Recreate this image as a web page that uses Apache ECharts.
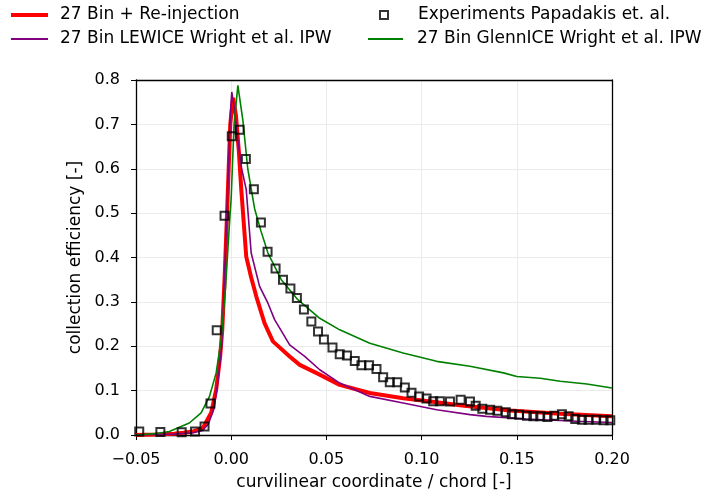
<!DOCTYPE html>
<html>
<head>
<meta charset="utf-8">
<script src="https://cdn.jsdelivr.net/npm/echarts@6/dist/echarts.min.js"></script>
<style>
  html, body { margin: 0; padding: 0; background: #fff; }
  #chart { width: 702px; height: 493px; }
</style>
</head>
<body>
<div id="chart"></div>
<script>
// 27 Bin + Re-injection
var reinjX = [-0.05, -0.04, -0.03, -0.025, -0.02, -0.015, -0.0105, -0.0079, -0.0058, -0.0047, -0.0035, -0.002, -0.0005, 0.001, 0.0025, 0.004, 0.0053, 0.0079, 0.0105, 0.0132, 0.0175, 0.0219, 0.0307, 0.036, 0.0465, 0.057, 0.0728, 0.0903, 0.1079, 0.12, 0.1465, 0.1728, 0.2];
var reinjY = [0, 0.001, 0.003, 0.005, 0.008, 0.015, 0.05, 0.102, 0.177, 0.237, 0.35, 0.52, 0.70, 0.76, 0.72, 0.64, 0.553, 0.402, 0.355, 0.312, 0.252, 0.211, 0.177, 0.158, 0.136, 0.113, 0.0946, 0.083, 0.074, 0.067, 0.055, 0.048, 0.042];

// 27 Bin LEWICE Wright et al. IPW
var lewiceX = [-0.05, -0.03, -0.02, -0.015, -0.012, -0.009, -0.007, -0.005, -0.004, -0.002, -0.0005, 0.0003, 0.0015, 0.003, 0.0055, 0.0079, 0.0105, 0.0149, 0.0193, 0.0228, 0.0307, 0.0386, 0.0465, 0.057, 0.0728, 0.0903, 0.1079, 0.1254, 0.134, 0.155, 0.1816, 0.2];
var lewiceY = [0, 0.002, 0.005, 0.01, 0.025, 0.06, 0.12, 0.2, 0.3, 0.535, 0.72, 0.773, 0.74, 0.68, 0.6, 0.553, 0.41, 0.335, 0.297, 0.26, 0.203, 0.177, 0.147, 0.117, 0.087, 0.072, 0.057, 0.046, 0.042, 0.036, 0.031, 0.028];

// 27 Bin GlennICE Wright et al. IPW
var glennX = [-0.05, -0.04, -0.0325, -0.022, -0.0158, -0.0114, -0.0079, -0.0053, -0.003, -0.001, 0.0, 0.0015, 0.0035, 0.0061, 0.0087, 0.0123, 0.0156, 0.0193, 0.0263, 0.035, 0.0465, 0.057, 0.0728, 0.0903, 0.1079, 0.1254, 0.143, 0.15, 0.1623, 0.1728, 0.1868, 0.2];
var glennY = [0, 0.003, 0.008, 0.027, 0.05, 0.087, 0.14, 0.215, 0.33, 0.47, 0.535, 0.7, 0.788, 0.71, 0.60, 0.51, 0.46, 0.41, 0.35, 0.305, 0.263, 0.237, 0.207, 0.185, 0.166, 0.155, 0.14, 0.132, 0.128, 0.121, 0.115, 0.106];

// Experiments Papadakis et. al.
var expX = [-0.0483, -0.0372, -0.026, -0.019, -0.014, -0.0109, -0.0076, -0.0035, 0.0003, 0.0044, 0.0077, 0.0119, 0.0156, 0.0191, 0.0233, 0.0272, 0.0311, 0.0345, 0.0382, 0.0421, 0.0456, 0.0487, 0.0532, 0.057, 0.0608, 0.0649, 0.0684, 0.0724, 0.0763, 0.0798, 0.0833, 0.0872, 0.0912, 0.0947, 0.0987, 0.1026, 0.1061, 0.1096, 0.1149, 0.1205, 0.1254, 0.1284, 0.1319, 0.136, 0.1398, 0.1442, 0.1474, 0.1512, 0.1553, 0.1587, 0.1623, 0.1661, 0.1696, 0.1737, 0.1772, 0.1807, 0.1842, 0.1877, 0.1917, 0.1956, 0.1991];
var expY = [0.008, 0.007, 0.006, 0.008, 0.019, 0.071, 0.236, 0.494, 0.673, 0.688, 0.622, 0.554, 0.479, 0.413, 0.375, 0.35, 0.33, 0.309, 0.283, 0.256, 0.233, 0.215, 0.197, 0.182, 0.179, 0.167, 0.157, 0.157, 0.149, 0.130, 0.119, 0.119, 0.107, 0.095, 0.087, 0.082, 0.076, 0.076, 0.0757, 0.0795, 0.0757, 0.066, 0.059, 0.057, 0.0547, 0.051, 0.047, 0.0457, 0.0435, 0.042, 0.042, 0.0405, 0.0435, 0.047, 0.042, 0.036, 0.0345, 0.0345, 0.0345, 0.033, 0.033];

var xTicks = { min: -0.05, max: 0.2, interval: 0.05 };
var yTicks = { min: 0, max: 0.8, interval: 0.1 };

function pairs(xs, ys) {
  return xs.map(function (x, i) { return [x, ys[i]]; });
}

var font = 'DejaVu Sans';
var chart = echarts.init(document.getElementById('chart'), null, { renderer: 'canvas' });

function legendItem(name, left, top, w, h, gap, extra) {
  var item = { name: name, icon: 'rect' };
  if (extra) item.itemStyle = extra;
  return {
    left: left, top: top, padding: 0,
    itemWidth: w, itemHeight: h, itemGap: 0,
    selectedMode: false,
    textStyle: { fontFamily: font, fontSize: 17, color: '#000', padding: [0, 0, 0, gap], lineHeight: 20 },
    data: [item]
  };
}

// frame axes (top / right), no labels
function frameAxis(pos) {
  return {
    type: 'value', position: pos,
    min: pos === 'top' ? xTicks.min : yTicks.min,
    max: pos === 'top' ? xTicks.max : yTicks.max,
    axisLine: { show: true, onZero: false, lineStyle: { color: '#000', width: 1.3 } },
    axisTick: { show: false }, axisLabel: { show: false }, splitLine: { show: false }
  };
}

var option = {
  backgroundColor: '#fff',
  animation: false,
  textStyle: { fontFamily: font },
  legend: [
    legendItem('27 Bin + Re-injection', 11, 5, 37, 4, 7),
    legendItem('27 Bin LEWICE Wright et al. IPW', 11, 29, 37, 2, 7),
    legendItem('Experiments Papadakis et. al.', 379, 5, 8, 8, 25, { color: 'rgba(0,0,0,0)', borderColor: '#000', borderWidth: 2 }),
    legendItem('27 Bin GlennICE Wright et al. IPW', 368, 29, 35, 2, 9)
  ],
  grid: {
    left: 136, top: 80, right: 90, bottom: 58,
    outerBoundsMode: 'none', containLabel: false
  },
  xAxis: [{
    type: 'value',
    min: xTicks.min, max: xTicks.max, interval: xTicks.interval,
    name: 'curvilinear coordinate / chord [-]',
    nameLocation: 'middle', nameGap: 39,
    nameTextStyle: { fontFamily: font, fontSize: 17, color: '#000' },
    axisLine: { show: true, onZero: false, lineStyle: { color: '#000', width: 1.3 } },
    axisTick: { show: true, inside: false, length: 5, lineStyle: { color: '#000' } },
    axisLabel: {
      fontFamily: font, fontSize: 16, color: '#000', margin: 17,
      formatter: function (v) {
        if (Math.abs(v) < 1e-9) return '0.00';
        return (v < 0 ? '\u2212' : '') + Math.abs(v).toFixed(2);
      }
    },
    splitLine: { show: true, lineStyle: { color: '#ebebeb', width: 1 } }
  }, frameAxis('top')],
  yAxis: [{
    type: 'value',
    min: yTicks.min, max: yTicks.max, interval: yTicks.interval,
    name: 'collection efficiency [-]',
    nameLocation: 'middle', nameGap: 46,
    nameTextStyle: { fontFamily: font, fontSize: 17, color: '#000' },
    axisLine: { show: true, onZero: false, lineStyle: { color: '#000', width: 1.3 } },
    axisTick: { show: true, inside: false, length: 5, lineStyle: { color: '#000' } },
    axisLabel: {
      fontFamily: font, fontSize: 16, color: '#000', margin: 16,
      formatter: function (v) { return v.toFixed(1); }
    },
    splitLine: { show: true, lineStyle: { color: '#ebebeb', width: 1 } }
  }, frameAxis('right')],
  series: [
    {
      name: '27 Bin + Re-injection', type: 'line', data: pairs(reinjX, reinjY),
      symbol: 'none', showSymbol: false, z: 2,
      itemStyle: { color: '#ff0000' },
      lineStyle: { color: '#ff0000', width: 4 }
    },
    {
      name: '27 Bin LEWICE Wright et al. IPW', type: 'line', data: pairs(lewiceX, lewiceY),
      symbol: 'none', showSymbol: false, z: 3,
      itemStyle: { color: '#800080' },
      lineStyle: { color: '#800080', width: 1.6 }
    },
    {
      name: '27 Bin GlennICE Wright et al. IPW', type: 'line', data: pairs(glennX, glennY),
      symbol: 'none', showSymbol: false, z: 3,
      itemStyle: { color: '#008000' },
      lineStyle: { color: '#008000', width: 1.6 }
    },
    {
      name: 'Experiments Papadakis et. al.', type: 'scatter', data: pairs(expX, expY),
      symbol: 'rect', symbolSize: 8, z: 4,
      itemStyle: { color: 'rgba(0,0,0,0)', borderColor: '#000', borderWidth: 2 }
    }
  ]
};

chart.setOption(option);
</script>
</body>
</html>
